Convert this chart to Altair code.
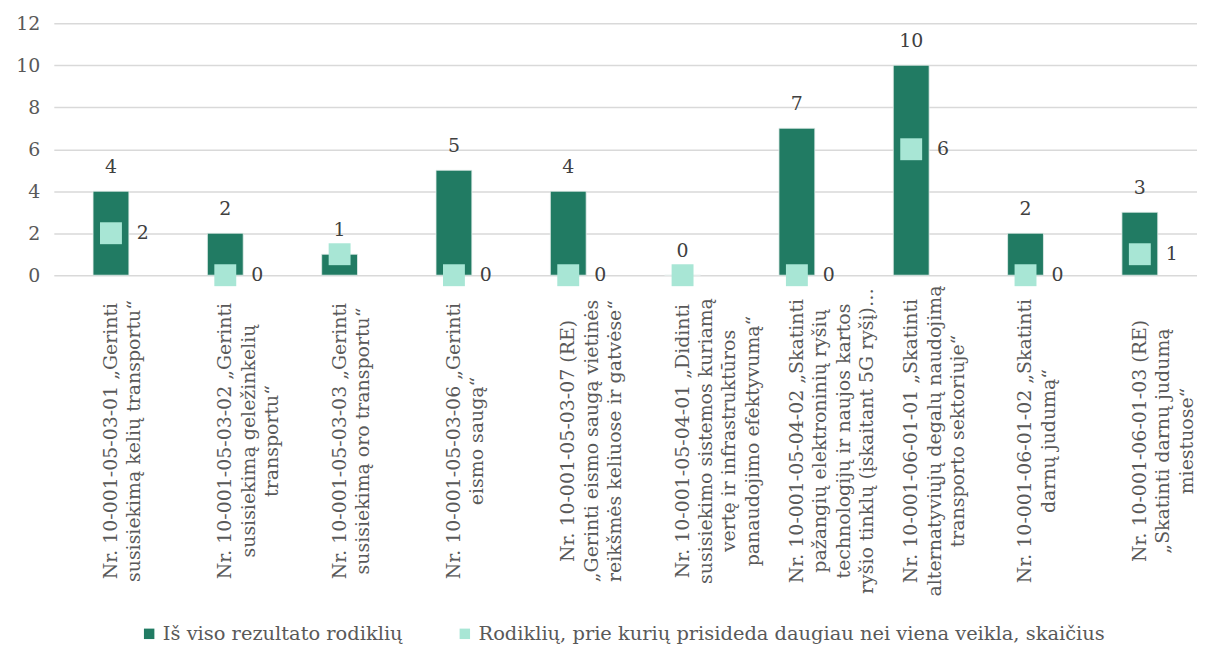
import altair as alt
import pandas as pd

categories = [
    "Nr. 10-001-05-03-01 „Gerinti\nsusisiekimą kelių transportu“",
    "Nr. 10-001-05-03-02 „Gerinti\nsusisiekimą geležinkelių\ntransportu“",
    "Nr. 10-001-05-03-03 „Gerinti\nsusisiekimą oro transportu“",
    "Nr. 10-001-05-03-06 „Gerinti\neismo saugą“",
    "Nr. 10-001-05-03-07 (RE)\n„Gerinti eismo saugą vietinės\nreikšmės keliuose ir gatvėse“",
    "Nr. 10-001-05-04-01 „Didinti\nsusisiekimo sistemos kuriamą\nvertę ir infrastruktūros\npanaudojimo efektyvumą“",
    "Nr. 10-001-05-04-02 „Skatinti\npažangių elektroninių ryšių\ntechnologijų ir naujos kartos\nryšio tinklų (įskaitant 5G ryšį)…",
    "Nr. 10-001-06-01-01 „Skatinti\nalternatyviųjų degalų naudojimą\ntransporto sektoriuje“",
    "Nr. 10-001-06-01-02 „Skatinti\ndarnų judumą“",
    "Nr. 10-001-06-01-03 (RE)\n„Skatinti darnų judumą\nmiestuose“",
]
total = [4, 2, 1, 5, 4, 0, 7, 10, 2, 3]
multi = [2, 0, 1, 0, 0, 0, 0, 6, 0, 1]
multi_label = ["2", "0", "", "0", "0", "", "0", "6", "0", "1"]

leg1 = "Iš viso rezultato rodiklių"
leg2 = "Rodiklių, prie kurių prisideda daugiau nei viena veikla, skaičius"
dark = "#217B63"
light = "#A8E6D5"
font = "DejaVu Serif"
txt = "#595959"

df = pd.DataFrame({
    "cat": categories,
    "total": total,
    "multi": multi,
    "mlabel": multi_label,
    "s1": [leg1] * len(categories),
    "s2": [leg2] * len(categories),
})

color_scale = alt.Scale(domain=[leg1, leg2], range=[dark, light])
legend = alt.Legend(
    title=None, orient="none", direction="horizontal", legendX=86, legendY=603,
    labelFont=font, labelFontSize=19.5, labelColor=txt, symbolType="square",
    symbolSize=110, symbolStrokeWidth=0, columnPadding=52, labelLimit=0, symbolOpacity=1,
)

x = alt.X(
    "cat:N", sort=None, title=None,
    scale=alt.Scale(paddingInner=0, paddingOuter=0),
    axis=alt.Axis(
        labelAngle=-90, labelAlign="center", labelBaseline="middle",
        labelExpr="split(datum.label, '\\n')", labelFont=font, labelFontSize=19,
        labelColor=txt, labelLineHeight=23.5, labelPadding=166, labelLimit=0,
        domain=False, ticks=False,
    ),
)
y_scale = alt.Scale(domain=[0, 12])
y_axis = alt.Axis(
    values=[0, 2, 4, 6, 8, 10, 12], title=None, domain=False, ticks=False,
    labelFont=font, labelFontSize=19, labelColor=txt, labelPadding=14,
    gridColor="#D9D9D9", gridWidth=1.5,
)

base = alt.Chart(df)

bars = base.mark_bar(size=36, stroke="#E6EFEC", strokeWidth=0.8).encode(
    x=x,
    y=alt.Y("total:Q", scale=y_scale, axis=y_axis),
    color=alt.Color("s1:N", scale=color_scale, legend=legend),
)
bar_text = base.mark_text(
    baseline="bottom", dy=-14, font=font, fontSize=19, color="#404040"
).encode(x=x, y=alt.Y("total:Q", scale=y_scale), text="total:Q")

points = base.mark_point(shape="square", filled=True, size=484, opacity=1).encode(
    x=x,
    y=alt.Y("multi:Q", scale=y_scale),
    color=alt.Color("s2:N", scale=color_scale, legend=legend),
)
point_text = base.mark_text(
    align="left", baseline="middle", dx=26, font=font, fontSize=19, color="#404040"
).encode(x=x, y=alt.Y("multi:Q", scale=y_scale), text="mlabel:N")

chart = alt.layer(bars, bar_text, points, point_text).properties(
    width=1148, height=253,
    padding={"left": 7, "top": 5, "right": 0, "bottom": 0},
).configure(font=font).configure_view(stroke=None)

chart.save("out.html", embed_options={"renderer": "svg", "actions": False})
